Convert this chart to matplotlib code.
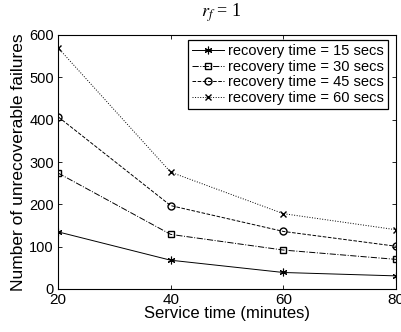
import matplotlib
matplotlib.use("Agg")
import matplotlib.pyplot as plt

service_time = [20, 40, 60, 80]
rt15 = [135, 68, 39, 31]
rt30 = [274, 129, 92, 70]
rt45 = [407, 197, 136, 101]
rt60 = [570, 276, 178, 140]
labels = ["recovery time = 15 secs", "recovery time = 30 secs",
          "recovery time = 45 secs", "recovery time = 60 secs"]

plt.rcParams['font.family'] = ['Liberation Sans', 'DejaVu Sans']
plt.rcParams['mathtext.fontset'] = 'stix'

fig = plt.figure(figsize=(4.01, 3.32), dpi=100)
ax = fig.add_axes([58/401, 1-289/332, (396-58)/401, (289-35)/332])

ax.plot(service_time, rt15, '-', marker=(6, 2, 0), color='black', lw=0.7, ms=5.5, mew=0.8, label=labels[0])
ax.plot(service_time, rt30, '-.', marker='s', color='black', lw=0.7, ms=4, mfc='none', label=labels[1])
ax.plot(service_time, rt45, '--', marker='o', color='black', lw=0.7, ms=5, mfc='none', label=labels[2])
ax.plot(service_time, rt60, ':', marker='x', color='black', lw=0.7, ms=4, label=labels[3])

ax.set_xlim(20, 80)
ax.set_ylim(0, 600)
ax.set_xticks([20, 40, 60, 80])
ax.set_yticks([0, 100, 200, 300, 400, 500, 600])
ax.tick_params(direction='in', top=True, right=True, length=3, width=0.6)
ax.tick_params(axis='x', labelsize=11, pad=3)
ax.tick_params(axis='y', labelsize=10.5, pad=3)
for s in ax.spines.values():
    s.set_linewidth(0.8)
ax.set_xlabel("Service time (minutes)", fontsize=12, labelpad=-1)
ax.set_ylabel("Number of unrecoverable failures", fontsize=12.5, labelpad=2)
fig.text(221/401, 1-17/332, "$r_f$ = 1", fontsize=13, ha='center', va='baseline',
         family=['Liberation Serif', 'DejaVu Serif'])
leg = ax.legend(loc='upper right', bbox_to_anchor=(388/401, 1-40/332),
                bbox_transform=fig.transFigure, borderaxespad=0,
                fontsize=10.5, frameon=True, fancybox=False,
                edgecolor='black', framealpha=1, handlelength=2.2, borderpad=0.3,
                labelspacing=0.1, handletextpad=0.25)
leg.get_frame().set_linewidth(0.9)

fig.savefig("out.png", dpi=100)
